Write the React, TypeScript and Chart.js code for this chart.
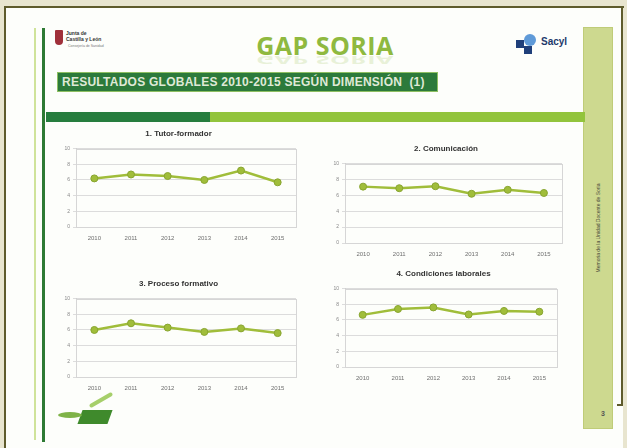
import React, { useEffect, useRef } from "react";
import { Chart, registerables } from "chart.js";

Chart.register(...registerables);

const years = ["2010", "2011", "2012", "2013", "2014", "2015"];
const tutorFormador = [6.2, 6.7, 6.5, 6.0, 7.2, 5.7];
const comunicacion = [7.1, 6.9, 7.15, 6.2, 6.7, 6.3];
const procesoFormativo = [6.0, 6.85, 6.3, 5.75, 6.2, 5.6];
const condicionesLaborales = [6.65, 7.4, 7.6, 6.7, 7.15, 7.05];
const yMin = 0;
const yMax = 10;
const yStep = 2;
const chartTitles = [
  "1. Tutor-formador",
  "2. Comunicación",
  "3. Proceso formativo",
  "4. Condiciones laborales",
];

const LINE = "#a0bd3a";
const FONT = "'Liberation Sans', Arial, sans-serif";

const framePlugin = {
  id: "frame",
  beforeDatasetsDraw(chart: any) {
    const { ctx, chartArea } = chart;
    ctx.save();
    ctx.strokeStyle = "#d6d6d6";
    ctx.lineWidth = 1;
    ctx.strokeRect(
      Math.round(chartArea.left) + 0.5,
      Math.round(chartArea.top) + 0.5,
      Math.round(chartArea.right - chartArea.left),
      Math.round(chartArea.bottom - chartArea.top)
    );
    ctx.restore();
  },
};

type Box = { left: number; top: number; width: number; height: number };

function MiniChart({ title, values, box }: { title: string; values: number[]; box: Box }) {
  const ref = useRef<HTMLCanvasElement>(null);
  useEffect(() => {
    if (!ref.current) return;
    const chart = new Chart(ref.current, {
      type: "line",
      data: {
        labels: years,
        datasets: [
          {
            data: values,
            borderColor: LINE,
            backgroundColor: LINE,
            borderWidth: 2.5,
            pointRadius: 3.5,
            pointBackgroundColor: LINE,
            pointBorderColor: "#88a530",
            pointBorderWidth: 1,
            tension: 0,
          },
        ],
      },
      options: {
        animation: false,
        responsive: false,
        maintainAspectRatio: false,
        layout: { padding: { top: 0, right: 4, bottom: 0, left: 0 } },
        plugins: {
          legend: { display: false },
          tooltip: { enabled: false },
          title: {
            display: true,
            text: title,
            color: "#333",
            font: { family: FONT, size: 8, weight: "bold" },
            padding: { top: 2, bottom: 10 },
          },
        },
        scales: {
          x: {
            offset: true,
            grid: { display: false, drawTicks: false },
            border: { display: true, color: "#cfcfcf" },
            ticks: {
              color: "#6f6f6f",
              font: { family: FONT, size: 6 },
              padding: 8,
              maxRotation: 0,
            },
            afterFit: (axis: any) => {
              axis.height = 16;
            },
          },
          y: {
            min: yMin,
            max: yMax,
            grid: { color: "#dcdcdc", tickLength: 3 },
            border: { display: true, color: "#cfcfcf" },
            ticks: {
              stepSize: yStep,
              color: "#888",
              font: { family: FONT, size: 5 },
              padding: 3,
            },
            afterFit: (axis: any) => {
              axis.width = 16;
            },
          },
        },
      },
      plugins: [framePlugin],
    });
    return () => chart.destroy();
  }, []);
  return (
    <canvas
      ref={ref}
      width={box.width}
      height={box.height}
      style={{ position: "absolute", left: box.left, top: box.top, width: box.width, height: box.height }}
    />
  );
}

function boxFor(l: number, r: number, t: number, b: number): Box {
  const left = l - 16;
  const top = t - 22;
  return { left, top, width: r - left + 4, height: b + 16 - top };
}

export default function App() {
  const abs = (s: React.CSSProperties): React.CSSProperties => ({ position: "absolute", ...s });
  return (
    <div
      style={{
        position: "fixed",
        left: 0,
        top: 0,
        width: 627,
        height: 448,
        background: "#e8e5cf",
        overflow: "hidden",
        fontFamily: FONT,
      }}
    >
      {/* slide */}
      <div style={abs({ left: 6, top: 8, width: 617, height: 440, background: "#fdfefb" })} />
      <div style={abs({ left: 4, top: 6, width: 2, height: 442, background: "#5e5b2c" })} />
      <div style={abs({ left: 4, top: 6, width: 620, height: 2, background: "#5e5b2c" })} />
      <div style={abs({ left: 621, top: 6, width: 2, height: 400, background: "#5e5b2c" })} />
      <div style={abs({ left: 617, top: 404, width: 6, height: 2, background: "#5e5b2c" })} />

      {/* left decorative bars */}
      <div style={abs({ left: 34, top: 28, width: 2, height: 412, background: "#cfe39a" })} />
      <div style={abs({ left: 42, top: 28, width: 3, height: 414, background: "#2e7a34" })} />

      {/* right sidebar */}
      <div
        style={abs({
          left: 583,
          top: 27,
          width: 30,
          height: 402,
          background: "#cdd98f",
          border: "1px solid #bfcc78",
          boxSizing: "border-box",
        })}
      />
      <div
        style={abs({
          left: 598,
          top: 228,
          transform: "translate(-50%, -50%) rotate(-90deg)",
          fontSize: 5,
          color: "#4a4a3a",
          whiteSpace: "nowrap",
        })}
      >
        Memoria de la Unidad Docente de Soria
      </div>
      <div style={abs({ left: 601, top: 410, fontSize: 7, fontWeight: "bold", color: "#555" })}>3</div>

      {/* left logo */}
      <div style={abs({ left: 55, top: 30, width: 8, height: 15, background: "#a0303a", borderRadius: "1px 1px 4px 4px" })} />
      <div style={abs({ left: 66, top: 30, fontSize: 5, lineHeight: "6px", color: "#333", fontWeight: "bold" })}>
        Junta de
        <br />
        Castilla y León
      </div>
      <div style={abs({ left: 68, top: 44, fontSize: 3.5, color: "#777" })}>Consejería de Sanidad</div>

      {/* GAP SORIA */}
      <div
        style={abs({
          left: 0,
          width: 650,
          top: 30,
          textAlign: "center",
          fontFamily: "'Open Sans', sans-serif",
          fontWeight: "bold",
          fontSize: 25,
          color: "#8fb93f",
          lineHeight: "30px",
          letterSpacing: 0.5,
        })}
      >
        GAP SORIA
      </div>
      <div
        style={abs({
          left: 0,
          width: 650,
          top: 45,
          textAlign: "center",
          fontFamily: "'Open Sans', sans-serif",
          fontWeight: "bold",
          fontSize: 25,
          color: "#8cb83d",
          lineHeight: "30px",
          letterSpacing: 0.5,
          transform: "scaleY(-0.4)",
          opacity: 0.18,
        })}
      >
        GAP SORIA
      </div>

      {/* Sacyl logo */}
      <div style={abs({ left: 516, top: 40, width: 8, height: 8, background: "#1f3f7a" })} />
      <div style={abs({ left: 524, top: 34, width: 12, height: 12, background: "#5f9ad8", borderRadius: "50%" })} />
      <div style={abs({ left: 524, top: 46, width: 8, height: 8, background: "#1f3f7a" })} />
      <div style={abs({ left: 541, top: 36, fontSize: 10, fontWeight: "bold", color: "#22396b" })}>Sacyl</div>

      {/* banner */}
      <div
        style={abs({
          left: 57,
          top: 72,
          width: 381,
          height: 20,
          background: "#2c7a3b",
          border: "1px solid #8ebf62",
          boxSizing: "border-box",
        })}
      />
      <div
        style={abs({
          left: 62,
          top: 74,
          fontSize: 12,
          lineHeight: "16px",
          fontWeight: "bold",
          color: "#dfe9d6",
          whiteSpace: "nowrap",
          letterSpacing: 0.25,
        })}
      >
        RESULTADOS GLOBALES 2010-2015 SEGÚN DIMENSIÓN&nbsp;&nbsp;(1)
      </div>

      {/* green bar */}
      <div style={abs({ left: 46, top: 112, width: 164, height: 10, background: "#267d3e" })} />
      <div style={abs({ left: 210, top: 112, width: 375, height: 10, background: "#92c43c" })} />

      {/* bottom-left leaf logo */}
      <div style={abs({ left: 80, top: 410, width: 30, height: 14, background: "#3f8a2c", transform: "skewX(-20deg)" })} />
      <div style={abs({ left: 58, top: 412, width: 24, height: 6, background: "#7fb348", borderRadius: "50%" })} />
      <div style={abs({ left: 88, top: 398, width: 26, height: 4, background: "#a6cf6a", transform: "rotate(-30deg)", borderRadius: 3 })} />

      <MiniChart title={chartTitles[0]} values={tutorFormador} box={boxFor(76, 297, 149, 227)} />
      <MiniChart title={chartTitles[1]} values={comunicacion} box={boxFor(345, 563, 164, 243)} />
      <MiniChart title={chartTitles[2]} values={procesoFormativo} box={boxFor(76, 297, 299, 377)} />
      <MiniChart title={chartTitles[3]} values={condicionesLaborales} box={boxFor(345, 558, 289, 367)} />
    </div>
  );
}
